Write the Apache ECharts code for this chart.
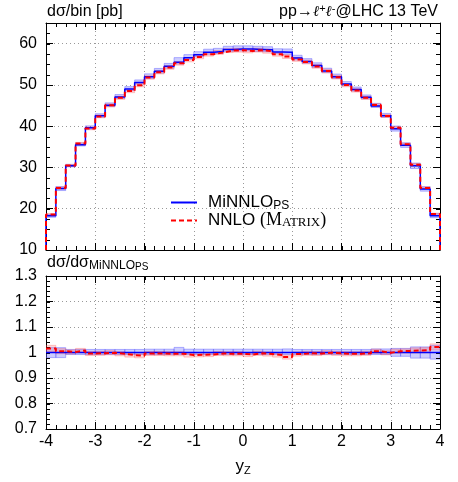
<!DOCTYPE html>
<html>
<head>
<meta charset="utf-8">
<script src="https://cdn.jsdelivr.net/npm/echarts@6/dist/echarts.min.js"></script>
<style>
html, body { margin: 0; padding: 0; background: #fff; }
#main { width: 458px; height: 482px; }
</style>
</head>
<body>
<div id="main"></div>
<script>
// bin edges in y_Z
const binEdges = [-4, -3.8, -3.6, -3.4, -3.2, -3, -2.8, -2.6, -2.4, -2.2, -2, -1.8, -1.6, -1.4, -1.2, -1, -0.8, -0.6, -0.4, -0.2, 0,
	0.2, 0.4, 0.6, 0.8, 1, 1.2, 1.4, 1.6, 1.8, 2, 2.2, 2.4, 2.6, 2.8, 3, 3.2, 3.4, 3.6, 3.8, 4];

// MiNNLO_PS dsigma/bin [pb]
const minnlo = [18.3, 24.9, 30.4, 35.5, 39.6, 42.5, 45.1, 47.1, 49.0, 50.6, 52.0, 53.3, 54.5, 55.5, 56.6, 57.3, 57.9, 58.1, 58.6, 58.7,
	58.7, 58.6, 58.5, 58.0, 57.9, 56.5, 55.7, 54.7, 53.4, 52.0, 50.2, 48.9, 47.0, 44.9, 42.5, 39.4, 35.4, 30.4, 24.8, 18.3];

// NNLO (MATRIX) / MiNNLO_PS
const nnloRatio = [1.016, 1.005, 1.002, 1.008, 0.996, 0.997, 0.999, 0.995, 0.990, 0.987, 0.996, 0.996, 0.995, 0.995, 0.990, 0.991, 0.992, 0.996, 0.995, 0.995,
	0.992, 0.997, 0.994, 0.990, 0.982, 0.994, 0.997, 0.996, 0.999, 0.997, 0.995, 0.995, 0.997, 1.005, 0.999, 1.005, 1.006, 1.008, 1.009, 1.022];

// relative scale uncertainties
const minnloErrUp = [0.019, 0.019, 0.012, 0.012, 0.012, 0.012, 0.012, 0.012, 0.012, 0.012, 0.013, 0.013, 0.013, 0.020, 0.013, 0.013, 0.013, 0.013, 0.013, 0.013,
	0.013, 0.013, 0.013, 0.013, 0.014, 0.012, 0.012, 0.012, 0.012, 0.012, 0.012, 0.012, 0.012, 0.014, 0.014, 0.016, 0.016, 0.022, 0.022, 0.028];
const minnloErrDown = [0.020, 0.020, 0.008, 0.008, 0.008, 0.008, 0.008, 0.008, 0.008, 0.008, 0.008, 0.008, 0.008, 0.008, 0.008, 0.008, 0.008, 0.008, 0.008, 0.008,
	0.008, 0.008, 0.008, 0.008, 0.008, 0.008, 0.008, 0.008, 0.008, 0.008, 0.008, 0.008, 0.008, 0.008, 0.008, 0.015, 0.015, 0.022, 0.022, 0.026];
const nnloErr = [0.012, 0.010, 0.008, 0.008, 0.008, 0.008, 0.008, 0.008, 0.008, 0.008, 0.008, 0.008, 0.008, 0.008, 0.008, 0.008, 0.008, 0.008, 0.008, 0.008,
	0.008, 0.008, 0.008, 0.008, 0.008, 0.008, 0.008, 0.008, 0.008, 0.008, 0.008, 0.008, 0.008, 0.008, 0.008, 0.008, 0.008, 0.010, 0.010, 0.012];

// axis ranges: [min, max, major interval, minor interval]
const xTicks = [-4, 4, 1, 0.2];
const yTopTicks = [10, 65, 10, 2.5];
const yRatioTicks = [0.7, 1.3, 0.1, 0.02];

const chartDom = document.getElementById('main');
const myChart = echarts.init(chartDom);

const BLUE = '#0000ff';
const RED = '#ff0000';
const FONT = 'Liberation Sans';

// derived series
const nnlo = minnlo.map((v, i) => v * nnloRatio[i]);
const minnloRatio = minnlo.map((v, i) => v / minnlo[i]);

function stepData(vals, floor) {
	let d = [];
	if (floor !== undefined) d.push([binEdges[0], floor]);
	for (let i = 0; i < vals.length; i++) d.push([binEdges[i], vals[i]]);
	d.push([binEdges[binEdges.length - 1], vals[vals.length - 1]]);
	if (floor !== undefined) d.push([binEdges[binEdges.length - 1], floor]);
	return d;
}

function bandData(lo, hi) {
	let d = [];
	for (let i = 0; i < lo.length; i++) d.push([binEdges[i], binEdges[i + 1], lo[i], hi[i]]);
	return d;
}

function bandRender(fill, stroke) {
	return function(params, api) {
		const p0 = api.coord([api.value(0), api.value(3)]);
		const p1 = api.coord([api.value(1), api.value(2)]);
		return {
			type: 'rect',
			shape: { x: p0[0], y: p0[1], width: p1[0] - p0[0], height: p1[1] - p0[1] },
			style: { fill: fill, stroke: stroke, lineWidth: 1 }
		};
	};
}

// minor tick values: [kind, value], kind 0 = x axis, 1 = y axis
function minorTickData(yT) {
	let d = [];
	for (let k = 0; xTicks[0] + k * xTicks[3] <= xTicks[1] + 1e-9; k++) d.push([0, +(xTicks[0] + k * xTicks[3]).toFixed(3)]);
	for (let k = 0; yT[0] + k * yT[3] <= yT[1] + 1e-9; k++) d.push([1, +(yT[0] + k * yT[3]).toFixed(3)]);
	return d;
}

function minorTickRender(params, api) {
	const cs = params.coordSys;
	const L = 4;
	const kind = api.value(0);
	const v = api.value(1);
	let segs;
	if (kind === 0) {
		const x = Math.round(api.coord([v, 1])[0]) + 0.5;
		segs = [[x, cs.y + cs.height, x, cs.y + cs.height - L], [x, cs.y, x, cs.y + L]];
	} else {
		const y = Math.round(api.coord([0, v])[1]) + 0.5;
		segs = [[cs.x, y, cs.x + L, y], [cs.x + cs.width, y, cs.x + cs.width - L, y]];
	}
	return {
		type: 'group',
		children: segs.map((s) => ({
			type: 'line',
			shape: { x1: s[0], y1: s[1], x2: s[2], y2: s[3] },
			style: { stroke: '#000', lineWidth: 1 }
		}))
	};
}

function axis(gridIndex, position, ticks, opts) {
	const a = {
		type: 'value', gridIndex: gridIndex, position: position,
		min: ticks[0], max: ticks[1], interval: ticks[2],
		axisLine: { show: true, onZero: false, lineStyle: { color: '#000', width: 1 } },
		axisTick: { show: true, inside: true, length: 7, lineStyle: { color: '#000' } },
		minorTick: { show: false },
		axisLabel: { show: false },
		splitLine: { show: !!opts.grid, lineStyle: { type: [1, 3], color: '#999' } },
		minorSplitLine: { show: false }
	};
	if (opts.labels) {
		a.axisLabel = {
			show: true, color: '#000', fontFamily: FONT, fontSize: 16,
			margin: (position === 'bottom') ? 5 : 9,
			formatter: (v) => (v === 65) ? '' : String(Math.round(v * 10) / 10)
		};
	}
	if (opts.name) {
		a.name = opts.name;
		a.nameLocation = 'middle';
		a.nameGap = 27;
		a.nameTextStyle = {
			rich: {
				a: { fontFamily: FONT, fontSize: 17, color: '#000', lineHeight: 20 },
				s: { fontFamily: FONT, fontSize: 11, color: '#000', lineHeight: 11, verticalAlign: 'bottom' }
			}
		};
	}
	return a;
}

// axes: index 0/1 top panel (data on 0), 2/3 ratio panel (data on 2)
const xAxes = [
	axis(0, 'bottom', xTicks, { grid: true }),
	axis(0, 'top', xTicks, {}),
	axis(1, 'bottom', xTicks, { grid: true, labels: true, name: '{a|y}{s|Z}' }),
	axis(1, 'top', xTicks, {})
];
const yAxes = [
	axis(0, 'left', yTopTicks, { grid: true, labels: true }),
	axis(0, 'right', yTopTicks, {}),
	axis(1, 'left', yRatioTicks, { grid: true, labels: true }),
	axis(1, 'right', yRatioTicks, {})
];

const richTitle = {
	a: { fontFamily: FONT, fontSize: 16, color: '#000', lineHeight: 18 },
	l: { fontFamily: 'DejaVu Serif', fontStyle: 'italic', fontSize: 15, color: '#000', lineHeight: 18 },
	u: { fontFamily: FONT, fontSize: 11, color: '#000', lineHeight: 11, verticalAlign: 'top' },
	s: { fontFamily: FONT, fontSize: 12, color: '#000', lineHeight: 12, verticalAlign: 'bottom' },
	ss: { fontFamily: FONT, fontSize: 10, color: '#000', lineHeight: 8, verticalAlign: 'bottom' }
};

const BLUE_FILL = 'rgba(90,90,255,0.3)';
const BLUE_EDGE = 'rgba(90,90,255,0.45)';
const RED_FILL = 'rgba(255,80,80,0.22)';
const RED_EDGE = 'rgba(255,80,80,0.3)';

let option = {
	animation: false,
	grid: [
		{ left: 46, top: 23, width: 394, height: 227 },
		{ left: 46, top: 276, width: 394, height: 153 }
	],
	xAxis: xAxes,
	yAxis: yAxes,
	legend: {
		data: ['MiNNLO', 'NNLO'],
		orient: 'vertical',
		left: 165, top: 189,
		itemWidth: 26, itemHeight: 18, itemGap: 0,
		selectedMode: false,
		itemStyle: { color: 'rgba(0,0,0,0)', borderWidth: 0 },
		formatter: (name) => name === 'MiNNLO' ? '{a|MiNNLO}{s|PS}' : '{a|NNLO }{p|(M}{c|ATRIX}{p|)}',
		textStyle: {
			color: '#000',
			padding: [0, 0, 0, 6],
			rich: {
				a: { fontFamily: FONT, fontSize: 17, color: '#000', lineHeight: 18 },
				s: { fontFamily: FONT, fontSize: 12, color: '#000', lineHeight: 11, verticalAlign: 'bottom' },
				p: { fontFamily: 'Liberation Serif', fontSize: 18, color: '#000', lineHeight: 18 },
				c: { fontFamily: 'Liberation Serif', fontSize: 13, color: '#000', lineHeight: 14, verticalAlign: 'bottom' }
			}
		}
	},
	graphic: [
		{ type: 'text', left: 47, top: 4, style: { text: 'dσ/bin [pb]', font: '16px "Liberation Sans"', fill: '#000' } },
		{
			type: 'text', right: 20, top: 3,
			style: { text: '{a|pp→}{l|ℓ}{u|+}{l|ℓ}{u|-}{a|@LHC 13 TeV}', rich: richTitle }
		},
		{
			type: 'text', left: 47, top: 255,
			style: { text: '{a|dσ/dσ}{s|MiNNLO}{ss|PS}', rich: richTitle }
		}
	],
	series: [
		{
			type: 'custom', name: 'MiNNLO band', xAxisIndex: 0, yAxisIndex: 0, clip: true, silent: true,
			renderItem: bandRender(BLUE_FILL, BLUE_EDGE),
			encode: { x: [0, 1], y: [2, 3] },
			data: bandData(minnlo.map((v, i) => v * (1 - minnloErrDown[i])), minnlo.map((v, i) => v * (1 + minnloErrUp[i])))
		},
		{
			type: 'custom', name: 'NNLO band', xAxisIndex: 0, yAxisIndex: 0, clip: true, silent: true,
			renderItem: bandRender(RED_FILL, RED_EDGE),
			encode: { x: [0, 1], y: [2, 3] },
			data: bandData(nnlo.map((v, i) => v * (1 - nnloErr[i])), nnlo.map((v, i) => v * (1 + nnloErr[i])))
		},
		{
			type: 'line', name: 'MiNNLO', xAxisIndex: 0, yAxisIndex: 0, step: 'end',
			symbol: 'none', color: BLUE, lineStyle: { color: BLUE, width: 1.5 },
			data: stepData(minnlo, yTopTicks[0])
		},
		{
			type: 'line', name: 'NNLO', xAxisIndex: 0, yAxisIndex: 0, step: 'end',
			symbol: 'none', color: RED, lineStyle: { color: RED, width: 2, type: [5, 3] },
			data: stepData(nnlo, yTopTicks[0])
		},
		{
			type: 'custom', name: 'MiNNLO ratio band', xAxisIndex: 2, yAxisIndex: 2, clip: true, silent: true,
			renderItem: bandRender(BLUE_FILL, BLUE_EDGE),
			encode: { x: [0, 1], y: [2, 3] },
			data: bandData(minnloRatio.map((v, i) => v - minnloErrDown[i]), minnloRatio.map((v, i) => v + minnloErrUp[i]))
		},
		{
			type: 'custom', name: 'NNLO ratio band', xAxisIndex: 2, yAxisIndex: 2, clip: true, silent: true,
			renderItem: bandRender(RED_FILL, RED_EDGE),
			encode: { x: [0, 1], y: [2, 3] },
			data: bandData(nnloRatio.map((v, i) => v - nnloErr[i]), nnloRatio.map((v, i) => v + nnloErr[i]))
		},
		{
			type: 'line', name: 'MiNNLO', xAxisIndex: 2, yAxisIndex: 2, step: 'end',
			symbol: 'none', color: BLUE, lineStyle: { color: BLUE, width: 1.5 },
			data: stepData(minnloRatio)
		},
		{
			type: 'line', name: 'NNLO', xAxisIndex: 2, yAxisIndex: 2, step: 'end',
			symbol: 'none', color: RED, lineStyle: { color: RED, width: 2, type: [5, 3] },
			data: stepData(nnloRatio)
		},
		{
			type: 'custom', name: 'minor ticks top', xAxisIndex: 0, yAxisIndex: 0, clip: false, silent: true,
			renderItem: minorTickRender, data: minorTickData(yTopTicks)
		},
		{
			type: 'custom', name: 'minor ticks ratio', xAxisIndex: 2, yAxisIndex: 2, clip: false, silent: true,
			renderItem: minorTickRender, data: minorTickData(yRatioTicks)
		}
	]
};

myChart.setOption(option);
</script>
</body>
</html>
